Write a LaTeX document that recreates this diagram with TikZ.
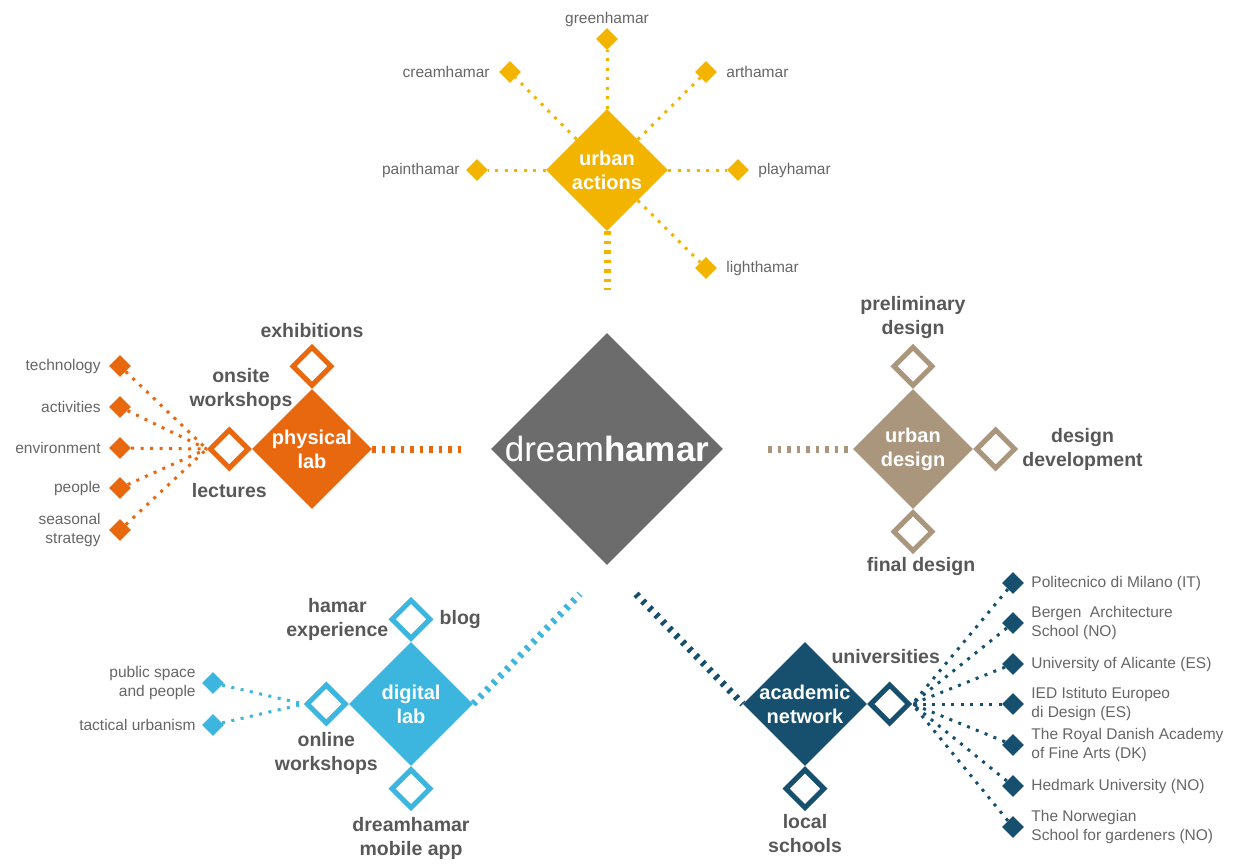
\documentclass[tikz,border=0pt]{standalone}
\usepackage{fontspec}
\setmainfont{Liberation Sans}
\usetikzlibrary{positioning,shapes.geometric}

\definecolor{uacolor}{RGB}{243,180,0}
\definecolor{plcolor}{RGB}{232,104,16}
\definecolor{udcolor}{RGB}{170,150,125}
\definecolor{dlcolor}{RGB}{60,182,222}
\definecolor{ancolor}{RGB}{22,80,110}
\definecolor{dhcolor}{RGB}{108,108,108}
\definecolor{headgray}{RGB}{88,88,88}
\definecolor{textgray}{RGB}{102,102,102}

\begin{document}
\begin{tikzpicture}[
  x=1pt, y=-1pt,
  hubnode/.style={diamond, aspect=1, inner sep=-12pt, text=white, align=center, font=\bfseries\fontsize{20}{24}\selectfont},
  subnode/.style={diamond, aspect=1, draw, line width=5pt, fill=white, minimum size=40pt, inner sep=0pt},
  leafnode/.style={diamond, aspect=1, minimum size=22pt, inner sep=0pt},
  subtext/.style={text=headgray, inner sep=0pt, align=center, font=\bfseries\fontsize{19.5}{24}\selectfont},
  leaftext/.style={text=textgray, inner sep=0pt, font=\fontsize{15.5}{19}\selectfont},
  dotline/.style={line width=3pt, dash pattern=on 3pt off 6.5pt},
  trunk/.style={line width=7pt, dash pattern=on 3.5pt off 6pt}
]
\useasboundingbox (0,0) rectangle (1239,863);

% Centre
\node[hubnode, fill=dhcolor, minimum size=232pt, font=\fontsize{35}{40}\selectfont] (dh) at (607,449) {dream\textbf{hamar}};

% Urban actions
\node[hubnode, fill=uacolor, minimum size=122pt] (ua) at (607,170) {urban\\actions};
\node[leafnode, fill=uacolor] (gh) at (607,39) {};
\node[leafnode, fill=uacolor] (ch) at (510,72) {};
\node[leafnode, fill=uacolor] (ah) at (706,72) {};
\node[leafnode, fill=uacolor] (ph) at (477,170) {};
\node[leafnode, fill=uacolor] (yh) at (738,170) {};
\node[leafnode, fill=uacolor] (lh) at (706,268) {};
\node[leaftext, above=1pt of gh] (gh_txt) {greenhamar};
\node[leaftext, left=9pt of ch] (ch_txt) {creamhamar};
\node[leaftext, right=9pt of ah] (ah_txt) {arthamar};
\node[leaftext, left=6pt of ph] (ph_txt) {painthamar};
\node[leaftext, right=9pt of yh] (yh_txt) {playhamar};
\node[leaftext, right=9pt of lh] (lh_txt) {lighthamar};
\draw[dotline, uacolor] (ua) -- (gh);
\draw[dotline, uacolor] (ua) -- (ch);
\draw[dotline, uacolor] (ua) -- (ah);
\draw[dotline, uacolor] (ua) -- (ph);
\draw[dotline, uacolor] (ua) -- (yh);
\draw[dotline, uacolor] (ua) -- (lh);
\coordinate (ua_end) at (607,290);
\draw[trunk, uacolor] (ua) -- (ua_end);

% Physical lab
\node[hubnode, fill=plcolor, minimum size=120pt] (pl) at (312,449) {physical\\lab};
\node[subnode, draw=plcolor, above=0pt of pl] (ex) {};
\node[subnode, draw=plcolor, left=0pt of pl] (le) {};
\node[subtext, above=6pt of ex] (ex_txt) {exhibitions};
\node[subtext] (ow_txt) at (241,389) {onsite\\workshops};
\node[subtext, below=12pt of le] (le_txt) {lectures};
\node[leafnode, fill=plcolor] (te) at (120,366) {};
\node[leafnode, fill=plcolor] (ac) at (120,407) {};
\node[leafnode, fill=plcolor] (en) at (120,448) {};
\node[leafnode, fill=plcolor] (pe) at (120,488) {};
\node[leafnode, fill=plcolor] (ss) at (120,530) {};
\node[leaftext, left=8pt of te] (te_txt) {technology};
\node[leaftext, left=8pt of ac] (ac_txt) {activities};
\node[leaftext, left=8pt of en] (en_txt) {environment};
\node[leaftext, left=8pt of pe] (pe_txt) {people};
\node[leaftext, left=8pt of ss, align=right] (ss_txt) {seasonal\\strategy};
\draw[dotline, plcolor] (te) -- (le.west);
\draw[dotline, plcolor] (ac) -- (le.west);
\draw[dotline, plcolor] (en) -- (le.west);
\draw[dotline, plcolor] (pe) -- (le.west);
\draw[dotline, plcolor] (ss) -- (le.west);
\coordinate (pl_end) at (462,449);
\draw[trunk, plcolor] (pl) -- (pl_end);

% Urban design
\node[hubnode, fill=udcolor, minimum size=120pt] (ud) at (913,449) {urban\\design};
\node[subnode, draw=udcolor, above=0pt of ud] (pd) {};
\node[subnode, draw=udcolor, right=0pt of ud] (dd) {};
\node[subnode, draw=udcolor, below=0pt of ud] (fd) {};
\node[subtext, above=5pt of pd] (pd_txt) {preliminary\\design};
\node[subtext, right=4pt of dd] (dd_txt) {design\\development};
\node[subtext, below=3pt of fd, xshift=8pt] (fd_txt) {final design};
\coordinate (ud_end) at (768,449);
\draw[trunk, udcolor] (ud_end) -- (ud);

% Digital lab
\node[hubnode, fill=dlcolor, minimum size=124pt] (dl) at (411,704) {digital\\lab};
\node[subnode, draw=dlcolor, above=0pt of dl] (hx) {};
\node[subnode, draw=dlcolor, left=0pt of dl] (ow) {};
\node[subnode, draw=dlcolor, below=0pt of dl] (ma) {};
\node[subtext, left=0pt of hx] (hx_txt) {hamar\\experience};
\node[subtext, right=6pt of hx] (bl_txt) {blog};
\node[subtext, below=6pt of ow] (ow2_txt) {online\\workshops};
\node[subtext, below=6pt of ma] (ma_txt) {dreamhamar\\mobile app};
\node[leafnode, fill=dlcolor] (ps) at (213,683) {};
\node[leafnode, fill=dlcolor] (tu) at (213,725) {};
\node[leaftext, left=6pt of ps, align=right] (ps_txt) {public space\\and people};
\node[leaftext, left=6pt of tu] (tu_txt) {tactical urbanism};
\draw[dotline, dlcolor] (ps) -- (ow.west);
\draw[dotline, dlcolor] (tu) -- (ow.west);
\coordinate (dl_end) at (580,594);
\draw[trunk, dlcolor] (dl.east) -- (dl_end);

% Academic network
\node[hubnode, fill=ancolor, minimum size=124pt] (an) at (805,704) {academic\\network};
\node[subnode, draw=ancolor, right=0pt of an] (un) {};
\node[subnode, draw=ancolor, below=0pt of an] (ls) {};
\node[subtext, above=18pt of un, xshift=-4pt] (un_txt) {universities};
\node[subtext, below=3pt of ls] (ls_txt) {local\\schools};
\node[leafnode, fill=ancolor] (pm) at (1013,583) {};
\node[leafnode, fill=ancolor] (ba) at (1013,623) {};
\node[leafnode, fill=ancolor] (al) at (1013,664) {};
\node[leafnode, fill=ancolor] (ie) at (1013,704) {};
\node[leafnode, fill=ancolor] (rd) at (1013,745) {};
\node[leafnode, fill=ancolor] (hu) at (1013,786) {};
\node[leafnode, fill=ancolor] (ng) at (1013,827) {};
\node[leaftext, right=7pt of pm] (pm_txt) {Politecnico di Milano (IT)};
\node[leaftext, right=7pt of ba, align=left] (ba_txt) {Bergen\ \ Architecture\\School (NO)};
\node[leaftext, right=7pt of al] (al_txt) {University of Alicante (ES)};
\node[leaftext, right=7pt of ie, align=left] (ie_txt) {IED Istituto Europeo\\di Design (ES)};
\node[leaftext, right=7pt of rd, align=left] (rd_txt) {The Royal Danish Academy\\of Fine Arts (DK)};
\node[leaftext, right=7pt of hu] (hu_txt) {Hedmark University (NO)};
\node[leaftext, right=7pt of ng, align=left] (ng_txt) {The Norwegian\\School for gardeners (NO)};
\draw[dotline, ancolor] (pm) -- (un.east);
\draw[dotline, ancolor] (ba) -- (un.east);
\draw[dotline, ancolor] (al) -- (un.east);
\draw[dotline, ancolor] (ie) -- (un.east);
\draw[dotline, ancolor] (rd) -- (un.east);
\draw[dotline, ancolor] (hu) -- (un.east);
\draw[dotline, ancolor] (ng) -- (un.east);
\coordinate (an_end) at (636,594);
\draw[trunk, ancolor] (an_end) -- (an.west);

\end{tikzpicture}
\end{document}
